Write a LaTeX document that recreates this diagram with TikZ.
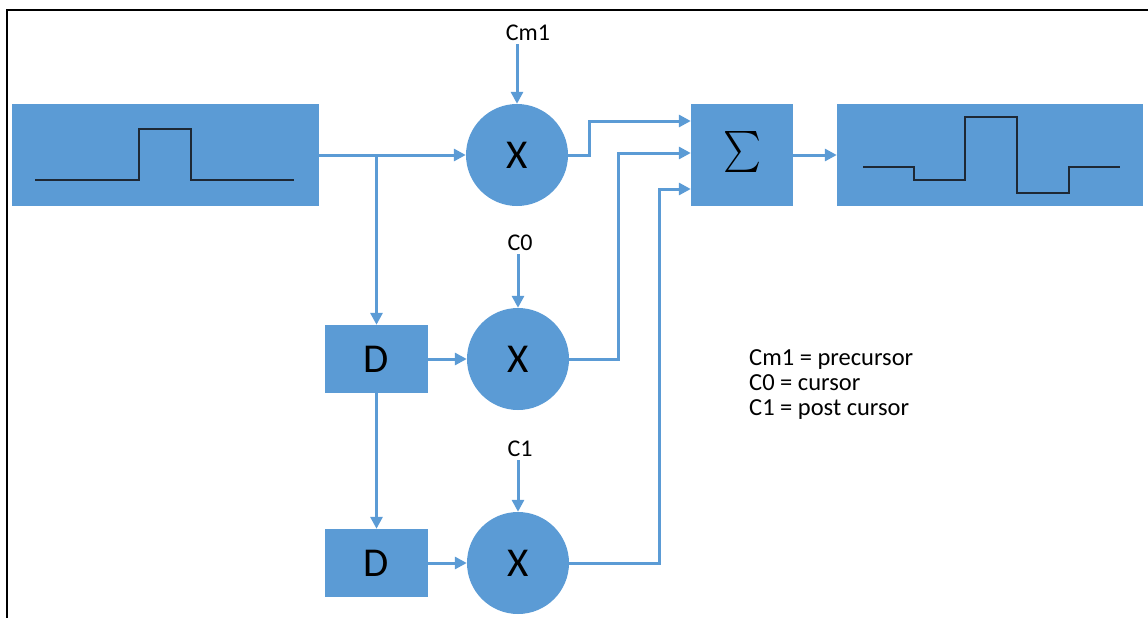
\documentclass[tikz,border=0pt]{standalone}
\usepackage{fontspec}
\setmainfont{Carlito}
\usetikzlibrary{arrows.meta}
\definecolor{tapblue}{RGB}{91,155,213}
\definecolor{wavecol}{RGB}{30,40,52}

\begin{document}
\begin{tikzpicture}[x=1pt,y=-1pt]

\useasboundingbox (0,0) rectangle (1148,618);
\draw[line width=1.5pt] (7,618) -- (7,10) -- (1148,10);

\tikzstyle{every node}=[inner sep=0pt,anchor=center];
\tikzstyle{blk}=[fill=tapblue,draw=none,font=\fontsize{41}{41}\selectfont];
\tikzstyle{mul}=[blk,shape=circle,minimum size=102pt];
\tikzstyle{coef}=[inner sep=3pt,font=\fontsize{24}{28}\selectfont];
\tikzstyle{legline}=[inner sep=0pt,anchor=base west,font=\fontsize{24.5}{28}\selectfont];
\tikzstyle{wire}=[tapblue,line width=3pt,-{Triangle[length=12pt,width=12pt]}];

% Draw the signal blocks
\node[blk,minimum width=307pt,minimum height=102pt] (in) at (165.5,155) {};
\node[blk,minimum width=102pt,minimum height=102pt] (sum) at (742,155) {\resizebox*{38pt}{46pt}{$\sum$}};
\node[blk,minimum width=306pt,minimum height=102pt] (out) at (990,155) {};

% Draw the delays and the multipliers
\node[blk,minimum width=103pt,minimum height=68pt] (d1) at (376.5,359) {D};
\node[blk,minimum width=103pt,minimum height=68pt] (d2) at (376.5,563) {D};
\node[mul] (x1) at (517,155) {X};
\node[mul] (x2) at (518,359) {X};
\node[mul] (x3) at (518,563) {X};

% Tap coefficients
\node[coef] (cm1) at (528,33) {Cm1};
\node[coef] (c0) at (520,243) {C0};
\node[coef] (c1) at (520,449) {C1};

% Legend
\node[legline] (leg1) at (749,365) {Cm1 = precursor};
\node[legline] (leg2) at (749,390) {C0 = cursor};
\node[legline] (leg3) at (749,415) {C1 = post cursor};

% Waveforms
\draw[wavecol,line width=1.5pt] (35,180) -- (139,180) -- (139,129) -- (191,129) -- (191,180) -- (294,180);
\draw[wavecol,line width=1.5pt] (863,167) -- (914,167) -- (914,180) -- (965,180) -- (965,117)
  -- (1017,117) -- (1017,193) -- (1069,193) -- (1069,167) -- (1120,167);

\coordinate (br) at (in.east -| d1.north);
\coordinate (s1) at ([yshift=34pt]sum.west);
\coordinate (s2) at ([yshift=2pt]sum.west);
\coordinate (s3) at ([yshift=-34pt]sum.west);

\tikzset{every edge/.append style = {wire}};

% Delay line and taps
\path
  (in.east) edge (x1.west)
  (br) edge (d1.north)
  (d1.south) edge (d2.north)
  (d1.east) edge (x2.west)
  (d2.east) edge (x3.west)
  (x1.north |- cm1.south) edge (x1.north)
  (x2.north |- c0.south) edge (x2.north)
  (x3.north |- c1.south) edge (x3.north)
  (sum.east) edge (out.west);

% Products into the adder
\draw[wire] (x1.east) -- ++(21,0) |- (s1);
\draw[wire] (x2.east) -- ++(49,0) |- (s2);
\draw[wire] (x3.east) -- ++(90,0) |- (s3);

\end{tikzpicture}
\end{document}
